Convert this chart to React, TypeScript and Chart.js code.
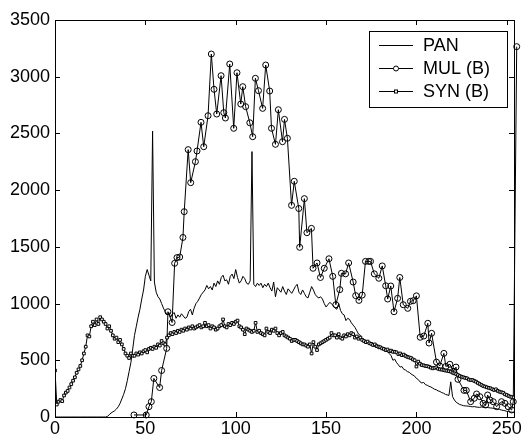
import { useEffect, useRef } from "react";
import { Chart, registerables } from "chart.js";

Chart.register(...registerables);

const xTicks = [0, 50, 100, 150, 200, 250];
const yTicks = [0, 500, 1000, 1500, 2000, 2500, 3000, 3500];
const seriesNames = ["PAN", "MUL (B)", "SYN (B)"];

// PAN histogram, bins 0..255
const panValues = [
  0, 0, 0, 0, 0, 0, 0, 0, 0, 0,
  0, 0, 0, 0, 0, 0, 0, 0, 0, 0,
  0, 0, 0, 0, 0, 0, 0, 0, 0, 5,
  20, 35, 45, 55, 70, 90, 120, 160, 200, 250,
  320, 400, 480, 600, 720, 800, 880, 950, 1040, 1120,
  1240, 1300, 1250, 1200, 2520, 1190, 1100, 1060, 1040, 1000,
  960, 930, 900, 920, 880, 910, 920, 870, 900, 880,
  910, 890, 870, 880, 930, 950, 900, 960, 1000, 1020,
  1050, 1080, 1100, 1120, 1160, 1130, 1150, 1120, 1180, 1150,
  1200, 1170, 1230, 1250, 1200, 1210, 1170, 1240, 1260, 1220,
  1300, 1230, 1180, 1200, 1240, 1220, 1180, 1170, 1200, 2340,
  1170, 1150, 1180, 1160, 1180, 1140, 1170, 1150, 1180, 1140,
  1110, 1190, 1060, 1140, 1120, 1100, 1150, 1110, 1080, 1130,
  1110, 1090, 1120, 1150, 1170, 1100, 1080, 1120, 1090, 1060,
  1050, 1100, 1150, 1120, 1080, 1060, 1050, 1060, 1040, 1000,
  970, 990, 1010, 1000, 980, 960, 950, 1000, 940, 910,
  900, 850, 870, 860, 830, 810, 790, 760, 730, 720,
  690, 680, 670, 660, 640, 650, 630, 620, 620, 600,
  610, 600, 590, 580, 575, 560, 540, 500, 510, 480,
  460, 440, 445, 420, 414, 400, 395, 380, 370, 360,
  340, 330, 310, 300, 305, 285, 280, 270, 265, 255,
  245, 240, 230, 225, 215, 210, 200, 195, 190, 310,
  180, 150, 130, 120, 110, 105, 100, 98, 97, 95,
  92, 90, 92, 88, 86, 85, 88, 86, 84, 85,
  82, 80, 78, 76, 74, 70, 66, 62, 58, 55,
  50, 48, 45, 42, 40, 40,
];

// SYN (B) histogram, bins 0..255
const synValues = [
  410, 110, 135, 150, 140, 190, 215, 230, 260, 290,
  320, 350, 390, 420, 450, 500, 560, 620, 720, 710,
  800, 840, 810, 860, 820, 880, 860, 840, 820, 780,
  800, 760, 720, 690, 700, 660, 680, 640, 600, 560,
  540, 520, 560, 540, 540, 560, 550, 570, 560, 580,
  590, 570, 600, 610, 600, 620, 610, 640, 630, 670,
  650, 640, 700, 720, 740, 730, 750, 740, 760, 750,
  770, 760, 780, 770, 790, 780, 800, 780, 790, 800,
  810, 790, 800, 830, 800, 810, 780, 800, 790, 770,
  780, 800, 810, 860, 800, 790, 820, 810, 830, 820,
  840, 850, 800, 790, 770, 730, 780, 770, 760, 750,
  760, 830, 750, 760, 740, 730, 720, 780, 750, 740,
  770, 760, 780, 740, 720, 740, 750, 720, 710, 700,
  690, 670, 680, 680, 670, 660, 650, 640, 640, 630,
  620, 640, 560, 660, 620, 590, 640, 650, 660, 670,
  680, 690, 700, 740, 720, 720, 700, 730, 700, 690,
  720, 710, 730, 720, 740, 730, 700, 710, 690, 700,
  680, 670, 660, 665, 650, 645, 635, 640, 625, 620,
  615, 605, 600, 590, 595, 580, 585, 575, 575, 570,
  555, 560, 545, 550, 538, 530, 525, 520, 508, 500,
  445, 488, 470, 458, 455, 450, 448, 443, 435, 429,
  433, 438, 425, 420, 418, 414, 410, 408, 404, 400,
  391, 385, 379, 370, 361, 355, 350, 345, 341, 330,
  326, 326, 318, 311, 300, 291, 282, 273, 268, 262,
  257, 253, 245, 238, 244, 230, 223, 218, 214, 200,
  194, 185, 179, 176, 173, 150,
];

// MUL (B): only occupied bins
const mulX = [
  43.7, 50.5, 52, 53.3, 54.7, 57.9, 59, 61.8, 62.5, 64.8,
  66.2, 67.5, 69, 70.8, 71.5, 73.7, 75.1, 77.7, 78.6, 80.8,
  82.3, 84.7, 86.5, 88, 89.5, 91.9, 93.4, 94.3, 96.7, 98.9,
  100.7, 102.8, 103.9, 105.5, 107.8, 109.4, 110.9, 112.6, 114.9, 116.6,
  118.8, 119.8, 122, 123.6, 125.9, 127, 128.6, 130.9, 132.4, 134.9,
  135.4, 138, 139.4, 141.9, 142.8, 145, 146.9, 149, 151.6, 153.7,
  155.4, 157.6, 158.5, 160.8, 162.5, 165, 166.4, 168.2, 170, 171.8,
  173.6, 174.6, 176.7, 179.2, 181.1, 183, 184.1, 185.8, 187.6, 189.6,
  190.8, 192.7, 195.2, 196.7, 198.2, 200, 202.1, 204.1, 206.3, 207,
  208.4, 211.1, 212.9, 215.2, 216.3, 218.5, 220.5, 221.9, 223, 226.3,
  227.6, 230, 232, 233.3, 235.1, 236.9, 238.3, 239.4, 240.7, 242.5,
  244.4, 247.1, 249, 250.8, 252.7, 253.6, 255.5,
];
const mulY = [
  18, 18, 91, 135, 340, 260, 410, 605, 928, 833,
  1355, 1405, 1410, 1583, 1810, 2357, 2066, 2251, 2345, 2598,
  2383, 2656, 3200, 2889, 2671, 3009, 2683, 2636, 3112, 2545,
  3035, 2759, 2912, 2736, 2594, 2471, 2986, 2877, 2721, 3103,
  2874, 2545, 2404, 2709, 2427, 2624, 2457, 1866, 2078, 1838,
  1496, 1925, 1625, 1663, 1311, 1358, 1230, 1311, 1395, 1240,
  990, 1123, 1267, 1262, 1358, 1190, 1070, 1028, 1075, 1372,
  1372, 1372, 1262, 1223, 1332, 1157, 1040, 1155, 928, 1046,
  1230, 990, 958, 1020, 1025, 1068, 703, 714, 826, 652,
  738, 484, 450, 561, 446, 465, 404, 440, 332, 235,
  235, 135, 165, 203, 179, 120, 106, 194, 150, 135,
  91, 135, 120, 91, 62, 135, 3265,
];

const FONT = "'Liberation Sans', Arial, Helvetica, sans-serif";

const framePlugin = {
  id: "matlabFrame",
  afterDraw(chart: any) {
    const { ctx, chartArea } = chart;
    const { left, right, top, bottom } = chartArea;
    const xs = chart.scales.x;
    const ys = chart.scales.y;
    const tl = 5;
    ctx.save();
    ctx.strokeStyle = "#000";
    ctx.lineWidth = 1;
    ctx.beginPath();
    xTicks.forEach((v) => {
      const p = Math.round(xs.getPixelForValue(v)) + 0.5;
      ctx.moveTo(p, bottom);
      ctx.lineTo(p, bottom - tl);
      ctx.moveTo(p, top);
      ctx.lineTo(p, top + tl);
    });
    yTicks.forEach((v) => {
      const p = Math.round(ys.getPixelForValue(v)) + 0.5;
      ctx.moveTo(left, p);
      ctx.lineTo(left + tl, p);
      ctx.moveTo(right, p);
      ctx.lineTo(right - tl, p);
    });
    ctx.stroke();
    ctx.strokeRect(Math.round(left) + 0.5, Math.round(top) + 0.5, Math.round(right - left), Math.round(bottom - top));
    ctx.restore();
  },
};

const legendPlugin = {
  id: "matlabLegend",
  afterDraw(chart: any) {
    const { ctx, chartArea } = chart;
    const w = 138;
    const h = 76;
    const x0 = Math.round(chartArea.right - 7 - w);
    const y0 = Math.round(chartArea.top + 11);
    ctx.save();
    ctx.fillStyle = "#fff";
    ctx.fillRect(x0, y0, w, h);
    ctx.strokeStyle = "#000";
    ctx.lineWidth = 1;
    ctx.strokeRect(x0 + 0.5, y0 + 0.5, w, h);
    ctx.font = `18px ${FONT}`;
    ctx.textBaseline = "middle";
    ctx.textAlign = "left";
    seriesNames.forEach((name, i) => {
      const cy = y0 + 14.5 + i * 23;
      ctx.beginPath();
      ctx.moveTo(x0 + 10, cy);
      ctx.lineTo(x0 + 44, cy);
      ctx.stroke();
      const mx = x0 + 27;
      if (i === 1) {
        ctx.beginPath();
        ctx.arc(mx, cy, 2.5, 0, Math.PI * 2);
        ctx.fillStyle = "#fff";
        ctx.fill();
        ctx.stroke();
      } else if (i === 2) {
        ctx.fillStyle = "#fff";
        ctx.fillRect(mx - 1.5, cy - 1.5, 3, 3);
        ctx.strokeRect(mx - 1.5, cy - 1.5, 3, 3);
      }
      ctx.fillStyle = "#000";
      ctx.fillText(name, x0 + 54, cy + 1);
    });
    ctx.restore();
  },
};

export default function App() {
  const canvasRef = useRef<HTMLCanvasElement | null>(null);

  useEffect(() => {
    const canvas = canvasRef.current;
    if (!canvas) return;
    const chart = new Chart(canvas, {
      type: "line",
      data: {
        datasets: [
          {
            label: seriesNames[0],
            data: panValues.map((y, i) => ({ x: i, y })),
            borderColor: "#000",
            borderWidth: 1,
            pointRadius: 0,
            tension: 0,
            order: 2,
          },
          {
            label: seriesNames[1],
            data: mulX.map((x, i) => ({ x, y: mulY[i] })),
            borderColor: "#000",
            borderWidth: 1,
            pointRadius: 3,
            pointStyle: "circle",
            pointBorderColor: "#000",
            pointBackgroundColor: "rgba(0,0,0,0)",
            pointBorderWidth: 1,
            tension: 0,
            clip: false,
            order: 1,
          },
          {
            label: seriesNames[2],
            data: synValues.map((y, i) => ({ x: i, y })),
            borderColor: "#000",
            borderWidth: 1,
            pointRadius: 1.9,
            pointStyle: "rect",
            pointBorderColor: "#000",
            pointBackgroundColor: "#fff",
            pointBorderWidth: 1,
            tension: 0,
            order: 0,
          },
        ],
      },
      options: {
        animation: false,
        responsive: false,
        devicePixelRatio: 1,
        layout: { padding: { top: 20, right: 9, left: 0, bottom: 0 } },
        plugins: {
          legend: { display: false },
          tooltip: { enabled: false },
        },
        scales: {
          x: {
            type: "linear",
            min: 0,
            max: 254,
            grid: { display: false, drawTicks: false },
            border: { display: false },
            afterBuildTicks: (scale: any) => {
              scale.ticks = xTicks.map((v) => ({ value: v }));
            },
            afterFit: (scale: any) => {
              scale.height = 23;
            },
            ticks: {
              color: "#000",
              padding: 1,
              maxRotation: 0,
              autoSkip: false,
              font: { family: FONT, size: 18 },
              callback: (v: any) => String(v),
            },
          },
          y: {
            type: "linear",
            min: 0,
            max: 3500,
            grid: { display: false, drawTicks: false },
            border: { display: false },
            afterBuildTicks: (scale: any) => {
              scale.ticks = yTicks.map((v) => ({ value: v }));
            },
            afterFit: (scale: any) => {
              scale.width = 55;
            },
            ticks: {
              color: "#000",
              padding: 5,
              autoSkip: false,
              font: { family: FONT, size: 18 },
              callback: (v: any) => String(v),
            },
          },
        },
      },
      plugins: [framePlugin, legendPlugin],
    });
    return () => chart.destroy();
  }, []);

  return (
    <div style={{ position: "fixed", left: 0, top: 0, width: 523, height: 440, background: "#fff" }}>
      <canvas ref={canvasRef} width={523} height={440} style={{ display: "block" }} />
    </div>
  );
}
